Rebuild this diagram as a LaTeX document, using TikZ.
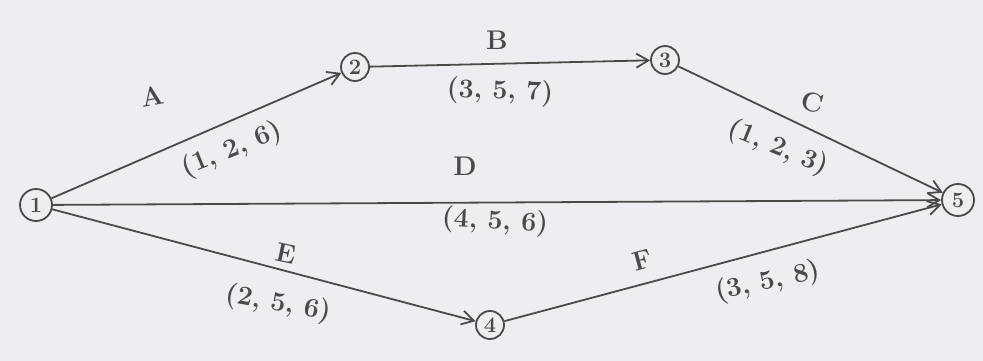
\documentclass[tikz,border=0pt]{standalone}
\usetikzlibrary{arrows.meta}
\definecolor{paper}{HTML}{EEEEF2}
\definecolor{ink}{HTML}{4A4A4A}
\begin{document}
\begin{tikzpicture}[x=1pt,y=-1pt,
  ev/.style={circle,draw=ink,line width=1.8pt,inner sep=0pt,minimum size=28pt,font=\fontsize{22}{22}\selectfont\bfseries,text=ink},
  act/.style={draw=ink,line width=1.8pt,-{Straight Barb[length=12pt,width=14pt,line width=1.8pt]}},
  lbl/.style={text=ink,font=\fontsize{27}{29}\selectfont\bfseries,inner sep=0pt}]
\fill[paper] (0,0) rectangle (983,361);
\useasboundingbox (0,0) rectangle (983,361);
\node[ev,minimum size=32pt] (n1) at (36,205) {1};
\node[ev] (n2) at (355,67) {2};
\node[ev] (n3) at (665,60) {3};
\node[ev] (n4) at (490,325) {4};
\node[ev,minimum size=32pt] (n5) at (958,200) {5};
\draw[act] (n1) -- (n2);
\draw[act] (n2) -- (n3);
\draw[act] (n3) -- (n5);
\draw[act] (n1) -- (n5);
\draw[act] (n1) -- (n4);
\draw[act] (n4) -- (n5);
\node[lbl,rotate=10] (la) at (152,96) {A};
\node[lbl,rotate=22] (pa) at (232,150) {(1, 2, 6)};
\node[lbl] (lb) at (497,40) {B};
\node[lbl,rotate=-2] (pb) at (500,92) {(3, 5, 7)};
\node[lbl,rotate=-15] (lc) at (812,102) {C};
\node[lbl,rotate=-22] (pc) at (778,148) {(1, 2, 3)};
\node[lbl] (ld) at (465,166) {D};
\node[lbl,rotate=-3] (pd) at (495,222) {(4, 5, 6)};
\node[lbl,rotate=-12] (le) at (286,254) {E};
\node[lbl,rotate=-10] (pe) at (278,304) {(2, 5, 6)};
\node[lbl,rotate=15] (lf) at (642,260) {F};
\node[lbl,rotate=12] (pf) at (768,282) {(3, 5, 8)};
\end{tikzpicture}
\end{document}
